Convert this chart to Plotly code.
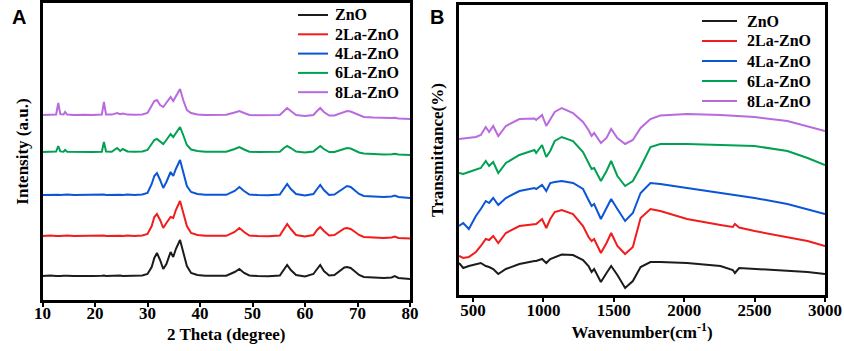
import plotly.graph_objects as go

# ---------------- Panel A: XRD ----------------
xrd_two_theta = [10, 11.5, 12.6, 13.0, 13.4, 14.0, 14.3, 14.7, 16, 18, 19.5, 21.3, 21.7, 22.1, 23.2,
                 24.2, 24.8, 25.3, 26.2, 27.5, 29.0, 30.0, 30.8, 31.3, 31.8, 32.4, 33.0, 33.6, 34.4,
                 34.9, 35.4, 36.2, 36.8, 37.5, 38.3, 39.5, 41, 43, 45, 46.6, 47.5, 48.4, 49.4, 51, 53,
                 55.2, 56.0, 56.6, 57.3, 58.3, 60, 61.6, 62.3, 62.9, 63.6, 64.6, 65.6, 66.6, 67.5, 68.0,
                 68.7, 69.4, 70.3, 71.2, 73, 75, 76.5, 77.1, 77.8, 79, 80]

xrd_zno = [24, 24.5, 24, 24.3, 24, 24.2, 24, 24.3, 24, 24.4, 24, 24.2, 24.5, 24, 24.3,
           24, 24.4, 24.1, 24.3, 24, 24.5, 26, 33, 42, 47, 40, 31, 36, 48,
           43, 51, 60, 49, 34, 27, 25, 24.2, 24, 24.3, 28, 31, 27, 24.5, 24, 23.8,
           24.5, 30, 35, 30, 25, 23.5, 26, 31, 35, 29, 24.5, 25, 29, 32.5, 33,
           32, 29, 25, 23, 22.5, 22, 22.5, 24, 22, 21.5, 21]

xrd_2la = [64, 64.5, 64, 64.3, 64, 64.2, 64, 64.4, 64, 64.3, 64, 64.2, 64.5, 64, 64.3,
           64, 64.3, 64, 64.4, 64, 64.5, 66, 74, 83, 86, 80, 72, 77, 83,
           82, 90, 99, 88, 74, 67, 65, 64.2, 64, 64.2, 68, 72, 68, 64.5, 64, 63.8,
           64.5, 71, 76, 71, 65, 63.5, 65, 70, 73, 69, 64.5, 65, 68, 71.5, 72,
           71, 68.5, 65, 63, 62.5, 62, 62.5, 63.5, 62, 62, 61.5]

xrd_4la = [105, 105.4, 105, 105.3, 105, 105.2, 105, 105.4, 105, 105.3, 105, 105.2, 105.5, 105, 105.3,
           105, 105.3, 105, 105.4, 105, 105.5, 107, 116, 124, 127, 120, 112, 118, 128,
           124, 131, 140, 129, 114, 108, 106, 105.2, 105, 105.2, 109, 113, 109, 105.5, 105, 104.8,
           105.5, 111.5, 116, 111, 106, 104.5, 106, 111, 115, 110, 105, 105.5, 109, 113, 114,
           113, 110, 106, 104, 103.5, 103, 103.5, 104.5, 103, 102.5, 102]

xrd_6la = [148, 148.4, 148.5, 154, 148.6, 148.3, 150, 148.2, 148, 148.3, 148, 148.3, 158, 148.5, 148.3,
           152, 149, 151, 148.5, 148.2, 148.5, 150, 156, 160, 161, 158, 156, 160, 166,
           163, 167, 173, 165, 155, 150.5, 149, 148.3, 148, 148.2, 151, 153, 150.5, 148.3, 148, 147.8,
           148.3, 152, 154, 152, 148.5, 147.5, 148.5, 151.5, 154, 151, 148, 148, 150, 151.5, 152,
           151.5, 150, 147.5, 146.5, 146, 145.5, 145.8, 146.3, 145.5, 145.2, 145]

xrd_8la = [185, 185.4, 185.5, 197, 185.8, 185.5, 188, 185.4, 185, 185.3, 185, 185.4, 198, 185.5, 185.4,
           187, 185.8, 186.5, 185.4, 185.2, 185.5, 187, 195, 199, 200, 195, 193, 197, 203,
           199, 204, 211, 200, 190, 187, 185.5, 185, 185, 185.2, 187.5, 189, 187, 185, 184.8, 184.6,
           185, 189, 192, 189, 185, 184, 185, 189, 192, 188, 184.5, 184.5, 186.5, 188.5, 189,
           188.5, 187, 184.5, 183, 182.5, 182, 182, 182.3, 181.5, 181.3, 181]

# ---------------- Panel B: FTIR ----------------
ftir_wavenumber = [400, 430, 470, 520, 555, 590, 614, 643, 679, 733, 829, 936, 948, 990, 1020, 1048,
                   1080, 1130, 1210, 1281, 1320, 1342, 1360, 1408, 1448, 1481, 1525, 1580, 1635, 1690,
                   1760, 1830, 2020, 2257, 2345, 2360, 2390, 2500, 2733, 2876, 3000]

ftir_8la = [156, 156.5, 157, 158, 160, 168, 163, 169, 159, 169, 176, 176.5, 175, 180, 169, 175,
            183, 187, 182, 173, 165, 159, 162, 152, 157, 166, 157, 151, 155, 167,
            176, 179.5, 181, 180, 179.5, 179.5, 179, 178, 174, 169, 164]

ftir_6la = [122, 121, 123, 125, 127, 134, 129, 133, 122, 132, 140, 145, 142, 150, 138, 144,
            154, 158, 154, 143, 131, 126, 127, 114, 124, 134, 119, 109, 114, 128,
            148, 151, 151, 150, 149.5, 149.5, 149.5, 149, 144, 137, 130]

ftir_4la = [69, 72, 66, 79, 86, 94, 92, 97, 90, 97, 104, 107, 106, 110, 104, 112,
            113, 114, 112, 106, 95, 89, 91, 76, 87, 96, 86, 74, 82, 102,
            112, 111, 107, 102, 100, 100, 99.5, 97, 91, 86, 81]

ftir_2la = [39, 37, 38, 43, 49, 56, 55, 59, 52, 62, 69, 71, 71, 76, 67, 76,
            83, 85, 81, 69, 58, 54, 56, 42, 52, 62, 49, 41, 48, 77,
            86, 84, 76, 70, 68, 71, 67.5, 64, 58, 54, 49]

ftir_zno = [32, 27, 29, 31, 32, 29, 28, 26, 21, 26, 31, 34, 34, 36, 32, 36,
            38, 40.5, 40, 35, 29, 23, 26, 13, 22, 29, 20, 7, 14, 28,
            33, 33, 32, 29, 25, 22, 27, 26, 24, 23, 21]

names = ["ZnO", "2La-ZnO", "4La-ZnO", "6La-ZnO", "8La-ZnO"]
colors = ["#1c1c1c", "#f21c1c", "#0a56d6", "#00a152", "#b96ade"]
xrd_series = [xrd_zno, xrd_2la, xrd_4la, xrd_6la, xrd_8la]
ftir_series = [ftir_zno, ftir_2la, ftir_4la, ftir_6la, ftir_8la]

W, H = 844, 351
fig = go.Figure()

for n, c, ys in zip(names, colors, xrd_series):
    fig.add_trace(go.Scatter(x=xrd_two_theta, y=ys, mode="lines", name=n,
                             line=dict(color=c, width=2), xaxis="x", yaxis="y",
                             showlegend=False))
for n, c, ys in zip(names, colors, ftir_series):
    fig.add_trace(go.Scatter(x=ftir_wavenumber, y=ys, mode="lines", name=n,
                             line=dict(color=c, width=2), xaxis="x2", yaxis="y2",
                             showlegend=False))

tickfont = dict(family="Liberation Serif", size=17, color="black", weight="bold")
titlefont = dict(family="Liberation Serif", size=17, color="black", weight="bold")
legfont = dict(family="Liberation Serif", size=16, color="black", weight="bold")
axis_common = dict(showline=True, linewidth=2.5, linecolor="black", mirror=True,
                   showgrid=False, zeroline=False, automargin=False)

# legend keys (decorations) drawn as paper-space lines + text
shapes = []
annotations = []
legA = dict(x0=298, x1=328, tx=333, y0=15, dy=19.3)
legB = dict(x0=702, x1=737, tx=745, y0=21, dy=20)
for leg in (legA, legB):
    for i, (n, c) in enumerate(zip(names, colors)):
        yy = 1 - (leg["y0"] + i * leg["dy"]) / H
        shapes.append(dict(type="line", xref="paper", yref="paper",
                           x0=leg["x0"] / W, x1=leg["x1"] / W, y0=yy, y1=yy,
                           line=dict(color=c, width=2)))
        annotations.append(dict(text=n, x=leg["tx"] / W, y=yy, xref="paper", yref="paper",
                                xanchor="left", yanchor="middle", showarrow=False,
                                font=legfont))

annotations += [
    dict(text="<b>A</b>", x=19 / W, y=1 - 17 / H, xref="paper", yref="paper",
         xanchor="center", yanchor="middle",
         showarrow=False, font=dict(family="Liberation Sans", size=20, color="black")),
    dict(text="<b>B</b>", x=437 / W, y=1 - 17 / H, xref="paper", yref="paper",
         xanchor="center", yanchor="middle",
         showarrow=False, font=dict(family="Liberation Sans", size=20, color="black")),
]

fig.update_layout(
    width=W, height=H,
    margin=dict(l=0, r=0, t=0, b=0, autoexpand=False),
    paper_bgcolor="white", plot_bgcolor="white",
    showlegend=False,
    xaxis=dict(domain=[42.5 / W, 410 / W], range=[10, 80], dtick=10, tick0=10,
               ticks="outside", ticklen=4, tickwidth=2, tickcolor="black",
               tickfont=tickfont, anchor="y", ticklabelstandoff=-8,
               title=dict(text="2 Theta (degree)", font=titlefont, standoff=6),
               **axis_common),
    yaxis=dict(domain=[1 - 300 / H, 1 - 3 / H], range=[0, 297], showticklabels=False,
               ticks="", anchor="x",
               title=dict(text="Intensity (a.u.)", font=titlefont, standoff=7),
               **axis_common),
    xaxis2=dict(domain=[459 / W, 825 / W], range=[400, 3000], dtick=500, tick0=500,
                ticks="outside", ticklen=4, tickwidth=2, tickcolor="black",
                tickfont=tickfont, anchor="y2", ticklabelstandoff=-6,
                title=dict(text="Wavenumber(cm<sup>-1</sup>)", font=titlefont, standoff=4),
                **axis_common),
    yaxis2=dict(domain=[1 - 295 / H, 1 - 5 / H], range=[0, 290], showticklabels=False,
                ticks="", anchor="x2",
                title=dict(text="Transmittance(%)", font=titlefont, standoff=9),
                **axis_common),
    shapes=shapes,
    annotations=annotations,
)

fig.write_html("out.html", config={"displayModeBar": False},
               post_script="document.body.style.margin='0';document.body.style.overflow='hidden';")
